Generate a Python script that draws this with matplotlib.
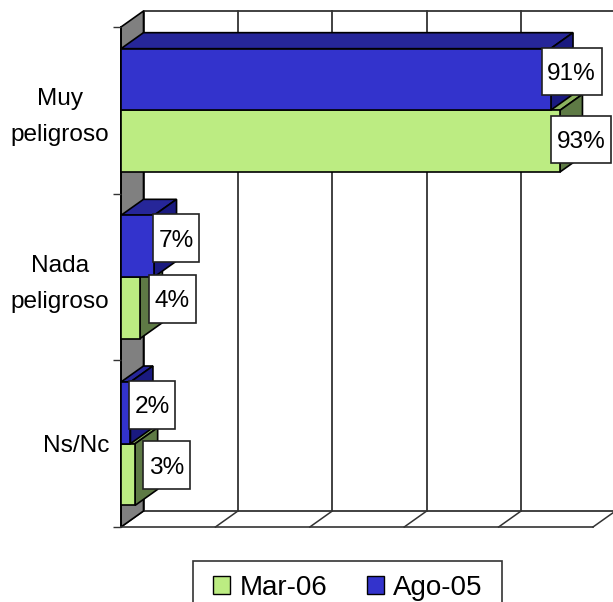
import matplotlib
matplotlib.use("Agg")
import matplotlib.pyplot as plt
from matplotlib.patches import Polygon, Rectangle, Patch
from matplotlib.transforms import ScaledTranslation

plt.rcParams["font.family"] = ["Liberation Sans", "DejaVu Sans"]

# Data
categories = ["Ns/Nc", "Nada\npeligroso", "Muy\npeligroso"]
mar_06 = [3, 4, 93]
ago_05 = [2, 7, 91]
series_names = ["Mar-06", "Ago-05"]

# Colours
BLUE = "#3333CC"
BLUE_TOP = "#262699"
BLUE_SIDE = "#1A1A80"
GREEN = "#BCEC82"
GREEN_TOP = "#8DB35F"
GREEN_SIDE = "#5E7A45"
WALL = "#808080"
LINE = "#333333"

W, H = 613, 602
fig = plt.figure(figsize=(W / 100, H / 100), dpi=100)

# Front plane of the fake 3D box, in pixels
x0_px, x1_px, top_px, bot_px = 121, 593, 27, 527
ax = fig.add_axes([x0_px / W, 1 - bot_px / H, (x1_px - x0_px) / W, (bot_px - top_px) / H])
ax.set_xlim(0, 100)
ax.set_ylim(0, 3)
ax.patch.set_alpha(0)

px_x = 100 / (x1_px - x0_px)
px_y = 3 / (bot_px - top_px)
dx = 22.5 * px_x   # depth offset
dy = 16 * px_y
bar_h = 0.37


def face(pts, color, z):
    ax.add_patch(Polygon(pts, closed=True, facecolor=color, edgecolor="black",
                         linewidth=1.2, clip_on=False, zorder=z))


# Left wall, back wall and floor lines
face([(0, 0), (dx, dy), (dx, 3 + dy), (0, 3)], WALL, 1)
for v in range(0, 101, 20):
    ax.plot([v + dx, v + dx], [dy, 3 + dy], color=LINE, lw=1.3, zorder=0.5, clip_on=False)
    ax.plot([v, v + dx], [0, dy], color=LINE, lw=1.1, zorder=0.5, clip_on=False)
ax.plot([dx, 100 + dx], [3 + dy, 3 + dy], color=LINE, lw=1.3, zorder=0.5, clip_on=False)
ax.plot([dx, 100 + dx], [dy, dy], color=LINE, lw=1.3, zorder=0.5, clip_on=False)

# Bars, one group at a time from the bottom of the chart
y_pos = [0.5, 1.5, 2.5]
for i, y in enumerate(y_pos):
    z = 2 + i * 0.1
    g, b = mar_06[i], ago_05[i]
    g_lo, g_hi = y - bar_h, y
    b_lo, b_hi = y, y + bar_h
    face([(0, g_hi), (g, g_hi), (g + dx, g_hi + dy), (dx, g_hi + dy)], GREEN_TOP, z)
    face([(g, g_lo), (g + dx, g_lo + dy), (g + dx, g_hi + dy), (g, g_hi)], GREEN_SIDE, z)
    face([(0, b_hi), (b, b_hi), (b + dx, b_hi + dy), (dx, b_hi + dy)], BLUE_TOP, z + 0.01)
    face([(b, b_lo), (b + dx, b_lo + dy), (b + dx, b_hi + dy), (b, b_hi)], BLUE_SIDE, z + 0.01)
    ax.barh(y - bar_h / 2, g, height=bar_h, color=GREEN, edgecolor="black",
            linewidth=1.2, zorder=z + 0.02, clip_on=False)
    ax.barh(y + bar_h / 2, b, height=bar_h, color=BLUE, edgecolor="black",
            linewidth=1.2, zorder=z + 0.02, clip_on=False)

# Value labels: white boxes, offset from bar end in pixels
box_h = 47.5
green_nudge = [(31.5, 9.5), (32.5, 9), (21, 1.5)]
blue_nudge = [(21.5, 8), (22, 8), (21, 8)]


def value_box(val, y, nudge):
    text = f"{val}%"
    w = 60 if val >= 10 else 46.5
    cx = val + nudge[0] * px_x
    cy = y + nudge[1] * px_y
    ax.add_patch(Rectangle((cx - w / 2 * px_x, cy - box_h / 2 * px_y), w * px_x, box_h * px_y,
                           facecolor="white", edgecolor="#222222", linewidth=1.2,
                           clip_on=False, zorder=5))
    ax.text(cx, cy, text, ha="center", va="center_baseline", fontsize=17.6, color="black",
            zorder=6, clip_on=False)


for i, y in enumerate(y_pos):
    value_box(mar_06[i], y - bar_h / 2, green_nudge[i])
    value_box(ago_05[i], y + bar_h / 2, blue_nudge[i])

# Axes
ax.set_xticks([])
ax.set_yticks([0, 1, 2, 3])
ax.set_yticklabels([])
ax.tick_params(axis="y", which="major", length=5.8, width=1, color=LINE)
ax.set_yticks(y_pos, minor=True)
ax.set_yticklabels(categories, minor=True, fontsize=17.6, linespacing=1.8)
ax.tick_params(axis="y", which="minor", length=0, pad=8.6)
for lab in ax.get_yticklabels(minor=True):
    lab.set_multialignment("center")
    if "\n" in lab.get_text():
        # two-line labels sit a little higher
        lab.set_transform(lab.get_transform() + ScaledTranslation(0, 0.025, fig.dpi_scale_trans))
for side in ["top", "right"]:
    ax.spines[side].set_visible(False)
ax.spines["left"].set_linewidth(1.3)
ax.spines["left"].set_zorder(1.5)
ax.spines["bottom"].set_linewidth(1.2)
ax.spines["bottom"].set_color(LINE)

# Legend, box runs off the bottom edge like the reference
fig.add_artist(Rectangle((193 / W, -0.02), (501.5 - 193) / W, 1 - 561 / H + 0.02,
                         transform=fig.transFigure, facecolor="white",
                         edgecolor="#333333", linewidth=1.2))
handles = [Patch(facecolor=GREEN, edgecolor="black", linewidth=1),
           Patch(facecolor=BLUE, edgecolor="black", linewidth=1)]
fig.legend(handles, series_names, loc="upper left", bbox_to_anchor=(213 / W, 1 - 575 / H),
           ncol=2, frameon=False, fontsize=20, borderpad=0, borderaxespad=0,
           handlelength=0.62, handleheight=0.62, handletextpad=0.33, columnspacing=1.42)

fig.savefig("out.png", dpi=100)
